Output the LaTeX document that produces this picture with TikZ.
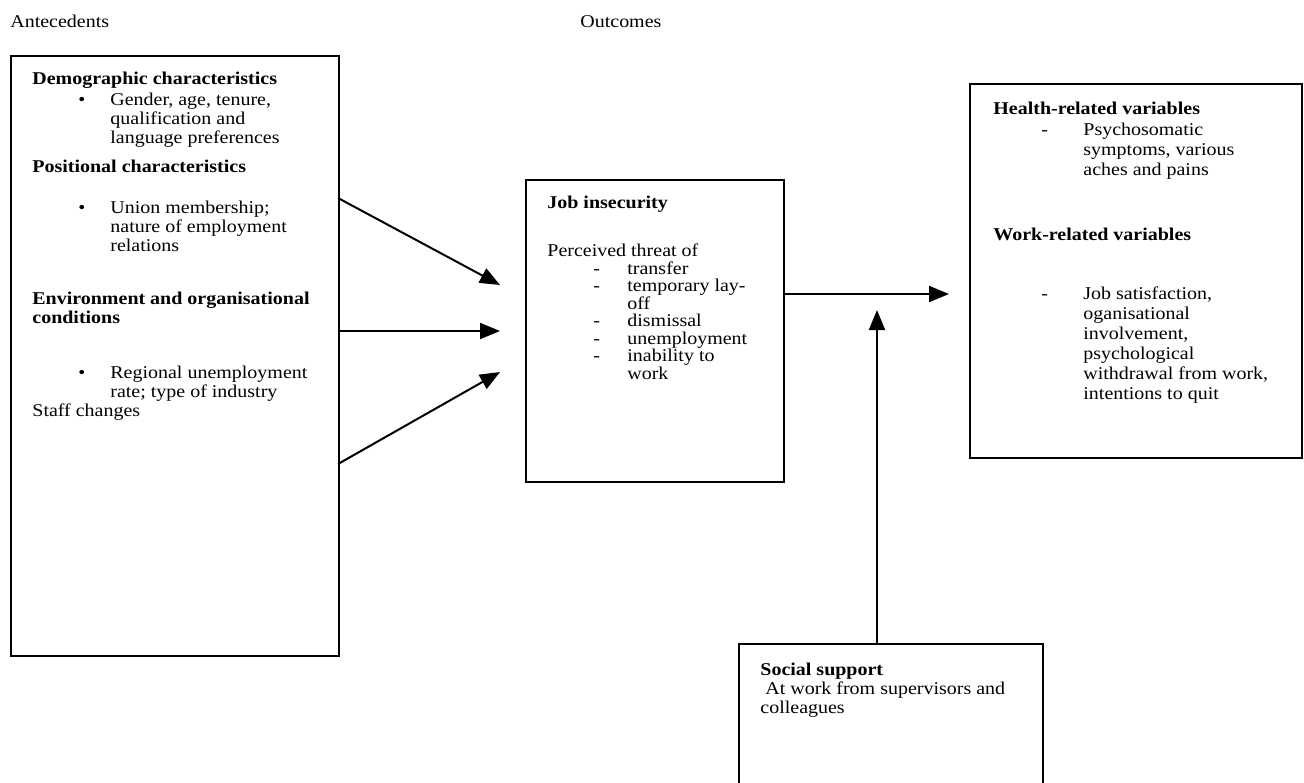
\documentclass[tikz,border=0pt]{standalone}
\usepackage{fontspec}
\setmainfont{Liberation Serif}[FakeStretch=1.11]
\usetikzlibrary{arrows.meta,positioning}
\tikzset{
  panel/.style = {draw, line width=1pt, rectangle, inner sep=0pt,
                  anchor=north west},
  txt/.style   = {anchor=base west, inner sep=0pt,
                  font=\fontsize{9}{9.5}\selectfont},
  hd/.style    = {txt, font=\fontsize{9}{9.5}\selectfont\bfseries},
  sig/.style   = {-{Triangle[length=10pt,width=8pt]}, line width=1pt},
}

\begin{document}
\begin{tikzpicture}[x=0.5pt,y=-0.5pt]
\useasboundingbox (0,0) rectangle (1304,782);
% column titles
\node[txt] (antec) at (10,27) {Antecedents};
\node[txt] (outc) at (580,27) {Outcomes};

% boxes
\node[panel, minimum width=164pt, minimum height=300pt] (ante) at (10,55) {};
\node[panel, minimum width=129pt, minimum height=151pt] (jobin) at (525,179) {};
\node[panel, minimum width=166pt, minimum height=187pt] (effects) at (969,83) {};
\node[panel, minimum width=152pt, minimum height=80pt] (social) at (738,643) {};

% antecedents
\node[hd] (dem) at (32,84) {Demographic characteristics};
\node[hd] (pos) at (32,172) {Positional characteristics};
\node[hd] (env1) at (32,304) {Environment and organisational};
\node[hd] (env2) at (32,323) {conditions};
\foreach \nm/\yy/\lab in {g1/105/{Gender, age, tenure,}, g2/124/{qualification and},
    g3/143/{language preferences}, u1/213/{Union membership;},
    u2/232/{nature of employment}, u3/251/{relations},
    r1/378/{Regional unemployment}, r2/397/{rate; type of industry}}
  \node[txt] (\nm) at (110,\yy) {\lab};
\foreach \nm/\yy in {b1/105, b2/213, b3/378}
  \node[txt] (\nm) at (78,\yy) {•};
\node[txt] (staff) at (32,416) {Staff changes};

% job insecurity
\node[hd] (jobt) at (547,208) {Job insecurity};
\node[txt] (threat) at (547,256) {Perceived threat of};
\foreach \nm/\yy/\lab in {t1/274/transfer, t2/291.5/temporary lay-, t3/309/off,
    t4/326.5/dismissal, t5/344/unemployment, t6/361.5/inability to, t7/379/work}
  \node[txt] (\nm) at (627,\yy) {\lab};
\foreach \nm/\yy in {d1/274, d2/291.5, d3/326.5, d4/344, d5/361.5}
  \node[txt] (\nm) at (593,\yy) {-};

% outcomes
\node[hd] (health) at (993,114) {Health-related variables};
\node[hd] (work) at (993,240) {Work-related variables};
\foreach \nm/\yy/\lab in {h1/135/Psychosomatic, h2/155/{symptoms, various},
    h3/175/aches and pains, w1/299/{Job satisfaction,}, w2/319/oganisational,
    w3/339/{involvement,}, w4/359/psychological, w5/379/{withdrawal from work,},
    w6/399/intentions to quit}
  \node[txt] (\nm) at (1083,\yy) {\lab};
\node[txt] (hd1) at (1041,135) {-};
\node[txt] (wd1) at (1041,299) {-};

% moderator
\node[hd] (soct) at (760,675) {Social support};
\node[txt] (soc1) at (760,694) {\ At work from supervisors and};
\node[txt] (soc2) at (760,713) {colleagues};

% arrows
\coordinate (s1) at (338,198);
\coordinate (s2) at (338,331);
\coordinate (s3) at (338,464);
\coordinate (e1) at (500,285);
\coordinate (e2) at (500,331);
\coordinate (e3) at (500,372);
\draw[sig] (s1) -- (e1);
\draw[sig] (s2) -- (e2);
\draw[sig] (s3) -- (e3);
\coordinate (jo) at (783,294);
\coordinate (ji) at (949,294);
\draw[sig] (jo) -- (ji);
\coordinate (up) at (877,310);
\draw[sig] (social.north -| up) -- (up);
\end{tikzpicture}
\end{document}
